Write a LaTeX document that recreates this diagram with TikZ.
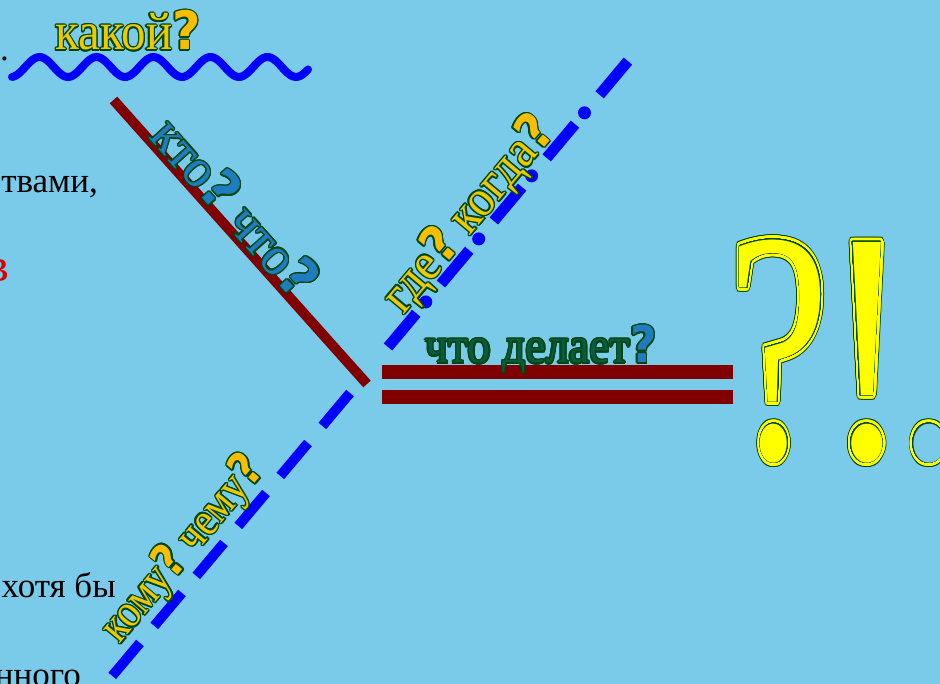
\documentclass[tikz,border=0pt]{standalone}
\usepackage{fontspec}
\setmainfont{Liberation Serif}
\newfontfamily\voprfont{DejaVu Sans}
\usepackage{xcolor}
\usepackage{graphicx}
\usepackage[copies]{contour}
\usepackage{tikz}
\contourlength{1.3pt}
\definecolor{fon}{RGB}{122,202,234}
\definecolor{bordo}{RGB}{128,0,0}
\definecolor{zelen}{RGB}{0,70,20}
\definecolor{zoloto}{RGB}{238,200,0}
\definecolor{oranzh}{RGB}{250,190,0}
\definecolor{goluboj}{RGB}{30,125,190}
\definecolor{temnozel}{RGB}{10,90,60}
\definecolor{zheltyj}{RGB}{255,255,0}
\newcommand{\wa}[2]{\textcolor{#1}{\contour{zelen}{#2}}}
\newcommand{\vp}[1]{{\voprfont\bfseries\textcolor{#1}{\contour{zelen}{?}}}}
\newcommand{\bz}[3]{\scalebox{#1}[1]{\contournumber{32}%
  \makebox[0pt][l]{\contourlength{5pt}\textcolor{zelen}{\contour{zelen}{#3}}}%
  \makebox[0pt][l]{\contourlength{3.8pt}\textcolor{zheltyj}{\contour{zheltyj}{#3}}}%
  \contourlength{1pt}\textcolor{#2}{\contour{zelen}{#3}}}}
\tikzset{
  volna/.style={draw=blue, line width=8pt, line cap=round},
  podl/.style={draw=bordo, line width=10pt},
  skaz/.style={draw=bordo, line width=14pt},
  punktir/.style={draw=blue, line width=10pt, dash pattern=on 43pt off 22.3pt},
  shtrih/.style={draw=blue, line width=11pt, dash pattern=on 44pt off 38.3pt},
  tochka/.style={draw=blue, line width=13pt, line cap=round, dash pattern=on 0pt off 82.3pt, dash phase=23.5pt},
  slovo/.style={inner sep=0pt, font=\fontsize{#1}{50}\selectfont},
  slovo/.default=46,
  kraj/.style={inner sep=0pt, anchor=base east, font=\fontsize{35}{40}\selectfont},
  bigznak/.style={inner sep=0pt, anchor=base, font=\fontsize{330}{340}\selectfont},
}

\begin{document}
\begin{tikzpicture}[x=1pt, y=-1pt]
  \fill[fon] (0,0) rectangle (940,684);
  \useasboundingbox (0,0) rectangle (940,684);
  \clip (0,0) rectangle (940,684);
  \coordinate (pd1) at (113.5,100);
  \coordinate (pd2) at (367,384);
  \coordinate (ob1) at (388,347);
  \coordinate (ob2) at (628,61);
  \coordinate (dp1) at (350,393);
  \coordinate (dp2) at (92,700);
  \coordinate (sk1) at (382,372);
  \coordinate (sk2) at (733,372);
  \coordinate (sk3) at (382,397);
  \coordinate (sk4) at (733,397);
  \node[kraj] (t1) at (9,61) {.};
  \node[kraj] (t2) at (98,193) {твами,};
  \node[kraj, text=red!85!black, font=\fontsize{48}{50}\selectfont] (t3) at (9.5,282) {в};
  \node[kraj] (t4) at (2,353) {,};
  \node[kraj] (t5) at (116,597) {хотя бы};
  \node[kraj] (t6) at (81,686) {нного};
  \draw[volna] plot[domain=12:308, samples=120, smooth] (\x, {67+10*cos(6.3158*(\x-11))});
  \draw[podl] (pd1) -- (pd2);
  \draw[shtrih] (ob1) -- (ob2);
  \draw[tochka] (ob1) -- (ob2);
  \draw[punktir] (dp1) -- (dp2);
  \draw[skaz] (sk1) -- (sk2);
  \draw[skaz] (sk3) -- (sk4);
  \node[slovo=49, anchor=base] (op) at (128,50) {\scalebox{1}[1.08]{\wa{zoloto}{какой}\vp{oranzh}}};
  \node[slovo=52, rotate=-48.25] (pd) at (236,207) {\scalebox{1}[1.05]{\wa{goluboj}{кто}\vp{goluboj}\ \wa{goluboj}{что}\vp{goluboj}}};
  \node[slovo=48, rotate=50] (ob) at (470,215) {\scalebox{1}[1.08]{\wa{zoloto}{где}\vp{oranzh}\ \wa{zoloto}{когда}\vp{oranzh}}};
  \node[slovo=41, rotate=50] (dp) at (184,550) {\scalebox{1}[1.15]{\wa{zoloto}{кому}\vp{oranzh}\ \wa{zoloto}{чему}\vp{oranzh}}};
  \node[slovo=46, anchor=base] (sk) at (541,363) {\scalebox{1}[1.1]{\wa{temnozel}{что делает}\vp{goluboj}}};
  \node[bigznak] (vz) at (779,458) {\bz{0.7}{zheltyj}{?}};
  \node[bigznak] (vs) at (867,458) {\bz{0.8}{zheltyj}{!}};
  \node[bigznak] (tc) at (929,458) {\bz{0.8}{fon}{.}};
\end{tikzpicture}
\end{document}
